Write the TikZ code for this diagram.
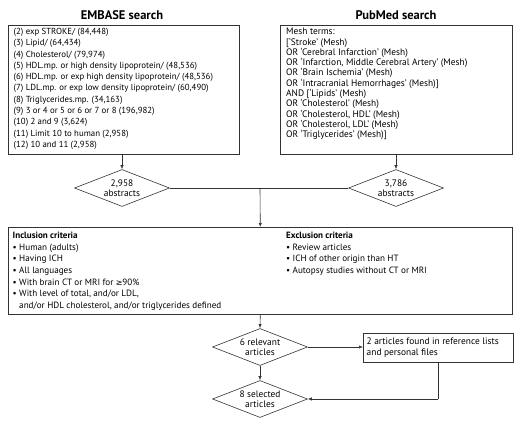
\documentclass[tikz,border=0pt]{standalone}
\usepackage{fontspec}
\setmainfont{PT Sans}
\newfontfamily\symf{DejaVu Sans}
\usetikzlibrary{shapes.geometric,arrows.meta}
\begin{document}
\begin{tikzpicture}[x=1pt,y=-1pt,
  box/.style={draw=black!80,line width=0.6pt,inner sep=0pt},
  txt/.style={inner sep=0pt,align=left,font=\fontsize{9.1}{11.6}\selectfont},
  title/.style={inner sep=0pt,font=\fontsize{12.5}{14}\selectfont\bfseries},
  dia/.style={draw=black!80,line width=0.6pt,diamond,inner sep=0pt,minimum width=95pt,minimum height=37pt,aspect=2.57,align=center,font=\fontsize{9.4}{10.5}\selectfont},
  arr/.style={draw=black!80,line width=0.6pt,-{Latex[length=4pt,width=3.2pt]}},
  ln/.style={draw=black!80,line width=0.6pt}]
\useasboundingbox (0,0) rectangle (520,425);
\node[title] (t1) at (122,15) {EMBASE search};
\node[title] (t2) at (396,15) {PubMed search};
\node[box,anchor=north west,minimum width=231pt,minimum height=129pt] (emb) at (8,25) {};
\node[txt,anchor=north west,font=\fontsize{8.8}{11.3}\selectfont] (embt) at (13.5,28) {(2) exp STROKE/ (84,448)\\
(3) Lipid/ (64,434)\\
(4) Cholesterol/ (79,974)\\
(5) HDL.mp. or high density lipoprotein/ (48,536)\\
(6) HDL.mp. or exp high density lipoprotein/ (48,536)\\
(7) LDL.mp. or exp low density lipoprotein/ (60,490)\\
(8) Triglycerides.mp. (34,163)\\
(9) 3 or 4 or 5 or 6 or 7 or 8 (196,982)\\
(10) 2 and 9 (3,624)\\
(11) Limit 10 to human (2,958)\\
(12) 10 and 11 (2,958)};
\node[box,anchor=north west,minimum width=232pt,minimum height=129pt] (pub) at (280,25) {};
\node[txt,anchor=north west,font=\fontsize{9.4}{10.3}\selectfont] (pubt) at (286,28) {Mesh terms:\\
{[}‘Stroke’ (Mesh)\\
OR ‘Cerebral Infarction’ (Mesh)\\
OR ‘Infarction, Middle Cerebral Artery’ (Mesh)\\
OR ‘Brain Ischemia’ (Mesh)\\
OR ‘Intracranial Hemorrhages’ (Mesh){]}\\
AND {[}‘Lipids’ (Mesh)\\
OR ‘Cholesterol’ (Mesh)\\
OR ‘Cholesterol, HDL’ (Mesh)\\
OR ‘Cholesterol, LDL’ (Mesh)\\
OR ‘Triglycerides’ (Mesh){]}};
\node[dia] (d1) at (122,188) {2,958\\abstracts};
\node[dia] (d2) at (396,188) {3,786\\abstracts};
\draw[arr] (d1 |- emb.south) -- (d1.north);
\draw[arr] (d2 |- pub.south) -- (d2.north);
\coordinate (j) at (260,188);
\draw[ln] (d1.east) -- (d2.west);
\node[box,anchor=north west,minimum width=504pt,minimum height=87pt] (crit) at (8,227) {};
\draw[arr] (j) -- (crit.north);
\node[txt,anchor=north west] (inc) at (12.5,232) {\textbf{Inclusion criteria}\\
• Human (adults)\\
• Having ICH\\
• All languages\\
• With brain CT or MRI for {\symf\fontsize{8}{11.6}\selectfont ≥}90\%\\
• With level of total, and/or LDL,\\
\phantom{• }and/or HDL cholesterol, and/or triglycerides defined};
\node[txt,anchor=north west] (exc) at (286,232) {\textbf{Exclusion criteria}\\
• Review articles\\
• ICH of other origin than HT\\
• Autopsy studies without CT or MRI};
\node[dia] (d3) at (260,347) {6 relevant\\articles};
\node[dia] (d4) at (260,399) {8 selected\\articles};
\draw[arr] (crit.south) -- (d3.north);
\draw[arr] (d3.south) -- (d4.north);
\node[box,anchor=north west,minimum width=150pt,minimum height=29pt] (side) at (363,333) {};
\node[txt,anchor=west,font=\fontsize{9.4}{10.8}\selectfont] (sidet) at (366.5,347.5) {2 articles found in reference lists\\and personal files};
\draw[arr] (d3.east) -- (side.west |- d3.east);
\coordinate (c) at (438,399);
\draw[ln] (c |- side.south) -- (c);
\draw[arr] (c) -- (d4.east);
\end{tikzpicture}
\end{document}
